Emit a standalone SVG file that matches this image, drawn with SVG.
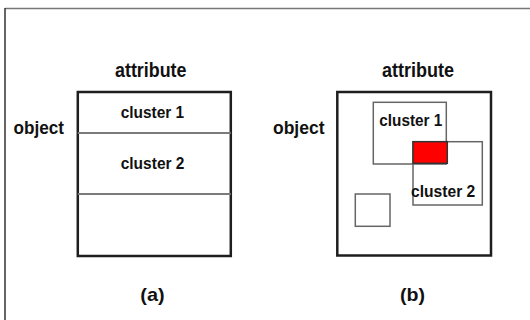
<svg xmlns="http://www.w3.org/2000/svg" width="530" height="320" viewBox="0 0 530 320">
<style>
text{font-family:"Liberation Sans",Arial,sans-serif;font-weight:bold;fill:#111;}
.lbl{font-size:19px;}
.att{font-size:20px;}
.cl{font-size:17px;}
.outer{fill:none;stroke:#1e1e1e;stroke-width:2.5;}
.div{stroke:#7a7a7a;stroke-width:1.8;}
.cr{fill:none;stroke:#666;stroke-width:1.5;}
</style>
<rect width="530" height="320" fill="#fff"/>
<g id="frame">
<line x1="5" y1="8.5" x2="530" y2="8.5" stroke="#777" stroke-width="1.5"/>
<line x1="5" y1="8" x2="5" y2="320" stroke="#333" stroke-width="1.5"/>
</g>
<g id="panel-a">
<text class="att" x="115" y="77" textLength="71.5" lengthAdjust="spacingAndGlyphs">attribute</text>
<text class="lbl" x="13.5" y="134" textLength="50.5" lengthAdjust="spacingAndGlyphs">object</text>
<rect class="outer" x="77.8" y="92" width="153" height="164"/>
<line class="div" x1="77.8" y1="133" x2="230.8" y2="133"/>
<line class="div" x1="77.8" y1="194" x2="230.8" y2="194"/>
<text class="cl" x="120.7" y="118" textLength="63.5" lengthAdjust="spacingAndGlyphs">cluster 1</text>
<text class="cl" x="120.7" y="169" textLength="63.8" lengthAdjust="spacingAndGlyphs">cluster 2</text>
<text class="lbl" x="140.3" y="301" textLength="24.3" lengthAdjust="spacingAndGlyphs">(a)</text>
</g>
<g id="panel-b">
<text class="att" x="382" y="77" textLength="72" lengthAdjust="spacingAndGlyphs">attribute</text>
<text class="lbl" x="273" y="134" textLength="51.5" lengthAdjust="spacingAndGlyphs">object</text>
<rect class="outer" x="337.3" y="92" width="153.7" height="163.5"/>
<g id="cluster1">
<rect class="cr" x="373.3" y="102.3" width="73" height="61.7"/>
<text class="cl" x="379.3" y="125.7" textLength="63" lengthAdjust="spacingAndGlyphs">cluster 1</text>
</g>
<g id="cluster2">
<rect class="cr" x="413" y="141.7" width="69.3" height="63.3"/>
<text class="cl" x="411" y="197" textLength="64.3" lengthAdjust="spacingAndGlyphs">cluster 2</text>
</g>
<g id="overlap">
<rect x="413" y="141.7" width="34.3" height="21.6" fill="#ff0000" stroke="#333" stroke-width="1.5"/>
</g>
<g id="small">
<rect class="cr" x="355.3" y="194" width="34.7" height="32.3" stroke="#555"/>
</g>
<text class="lbl" x="400" y="301" textLength="25" lengthAdjust="spacingAndGlyphs">(b)</text>
</g>
<g id="connectors"/>
</svg>
